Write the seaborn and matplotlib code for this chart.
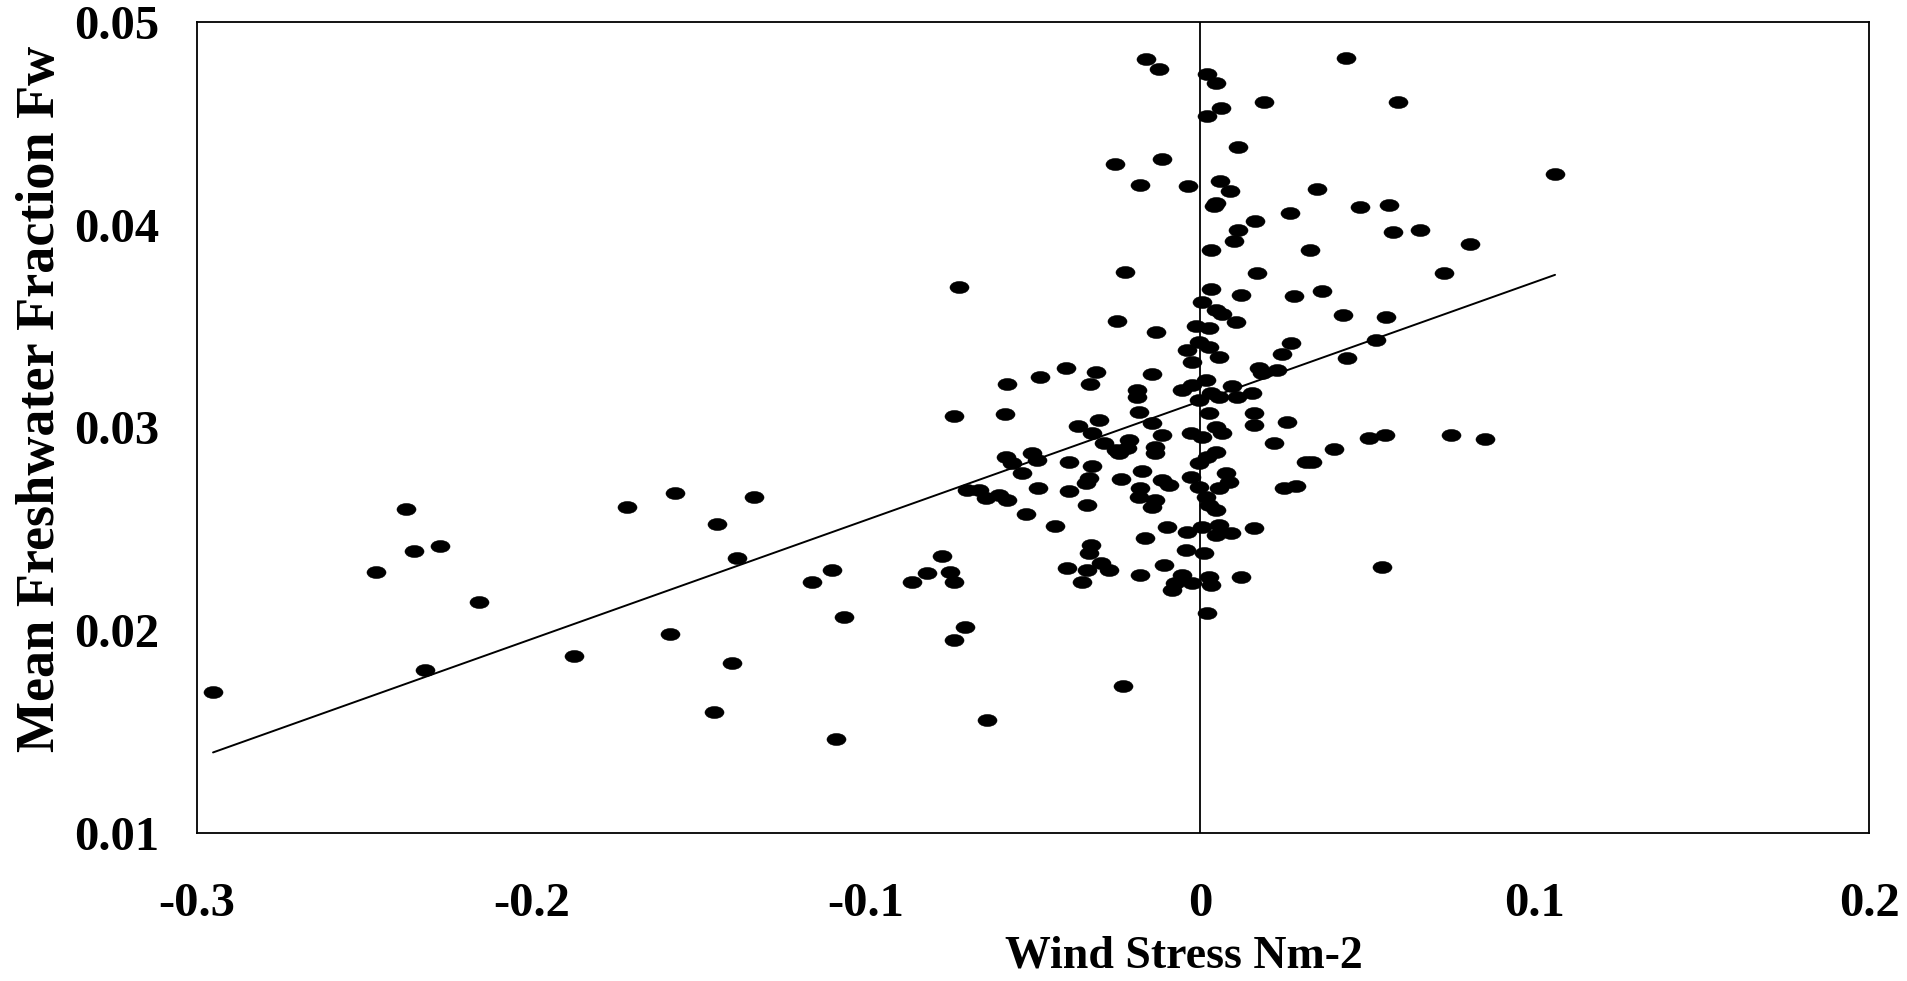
import numpy as np
import pandas as pd
import matplotlib
matplotlib.use("Agg")
import matplotlib.pyplot as plt
import seaborn as sns
from matplotlib.path import Path
from matplotlib.transforms import Affine2D

# ---- data ----
wind_stress = [
    -0.2952, -0.2464, -0.2374, -0.2350, -0.2318, -0.2273, -0.2156, -0.1872, -0.1714, -0.1585,
    -0.1570, -0.1453, -0.1444, -0.1400, -0.1385, -0.1335, -0.1160, -0.1100, -0.1089, -0.1064,
    -0.0863, -0.0816, -0.0772, -0.0747, -0.0737, -0.0737, -0.0702, -0.0637, -0.0722, -0.0737,
    -0.0697, -0.0662, -0.0642, -0.0602, -0.0577, -0.0584, -0.0577, -0.0582, -0.0562, -0.0532,
    -0.0522, -0.0502, -0.0487, -0.0484, -0.0478, -0.0433, -0.0400, -0.0398, -0.0393, -0.0393,
    -0.0365, -0.0353, -0.0343, -0.0338, -0.0338, -0.0333, -0.0333, -0.0330, -0.0328, -0.0323,
    -0.0323, -0.0313, -0.0303, -0.0298, -0.0288, -0.0273, -0.0256, -0.0253, -0.0250, -0.0238,
    -0.0230, -0.0225, -0.0218, -0.0213, -0.0188, -0.0188, -0.0183, -0.0183, -0.0179, -0.0179,
    -0.0179, -0.0173, -0.0164, -0.0161, -0.0144, -0.0144, -0.0144, -0.0134, -0.0134, -0.0131,
    -0.0122, -0.0114, -0.0114, -0.0114, -0.0109, -0.0099, -0.0094, -0.0084, -0.0074, -0.0054, -0.0044, -0.0037,
    0.0006, 0.0046, 0.0066, 0.0106, -0.0014, 0.0026, -0.0004, 0.0026, -0.0039, 0.0056,
    -0.0024, 0.0270, 0.0245, 0.0176, 0.0185, 0.0230, -0.0054, -0.0024, 0.0016, 0.0031,
    -0.0004, 0.0056, 0.0096, 0.0111, 0.0156, 0.0161, 0.0161, 0.0260, 0.0026, -0.0029,
    0.0006, 0.0046, 0.0066, -0.0243, 0.0021, 0.0046, -0.0004, 0.0220, 0.0315, -0.0134,
    -0.0029, -0.0004, 0.0076, 0.0086, 0.0056, 0.0016, 0.0026, 0.0046, 0.0250, 0.0285,
    -0.0039, 0.0006, 0.0056, 0.0046, 0.0091, 0.0161, 0.0011, -0.0024, 0.0026, 0.0031, 0.0121, 0.0021,
    0.0021, 0.0046, 0.0437, 0.0190, 0.0061, 0.0021, 0.0114, 0.0058, 0.0089, 0.0046, 0.0041, 0.0348,
    0.0268, 0.0477, 0.0164, 0.0113, 0.0101, 0.0033, 0.0327, 0.0170, 0.0031, 0.0121, 0.0280, 0.0365,
    0.0591, 0.1061, 0.0565, 0.0575, 0.0658, 0.0807, 0.0728, 0.0428, 0.0556, 0.0527,
    0.0438, 0.0504, 0.0554, 0.0401, 0.0751, 0.0851, 0.0335, 0.0543,
]
freshwater_fraction = [
    0.01695, 0.02287, 0.02598, 0.02391, 0.01804, 0.02416, 0.02139, 0.01873, 0.02608, 0.01981,
    0.02677, 0.01597, 0.02524, 0.01837, 0.02355, 0.02659, 0.02237, 0.02297, 0.01464, 0.02067,
    0.02240, 0.02284, 0.02368, 0.02289, 0.02237, 0.01952, 0.02018, 0.01556, 0.03694, 0.03057,
    0.02692, 0.02692, 0.02651, 0.02667, 0.02642, 0.03065, 0.03213, 0.02856, 0.02823, 0.02774,
    0.02572, 0.02873, 0.02840, 0.02700, 0.03248, 0.02516, 0.03292, 0.02306, 0.02831, 0.02688,
    0.03009, 0.02239, 0.02725, 0.02616, 0.02297, 0.02749, 0.02380, 0.03215, 0.02420, 0.02971,
    0.02810, 0.03272, 0.03037, 0.02330, 0.02922, 0.02297, 0.04298, 0.02889, 0.03525, 0.02744,
    0.01725, 0.03767, 0.02897, 0.02938, 0.03185, 0.03152, 0.03078, 0.02659, 0.02700, 0.02273,
    0.04196, 0.02785, 0.02453, 0.04816, 0.03262, 0.03021, 0.02609, 0.02905, 0.02873, 0.03471,
    0.04767, 0.04324, 0.02963, 0.02741, 0.02322, 0.02508, 0.02716, 0.02199, 0.02232, 0.02273, 0.02396, 0.04191,
    0.03620, 0.03580, 0.03560, 0.03520, 0.03500, 0.03490, 0.03423, 0.03399, 0.03382, 0.03349,
    0.03325, 0.03415, 0.03363, 0.03292, 0.03267, 0.03284, 0.03185, 0.03210, 0.03234, 0.03169,
    0.03136, 0.03152, 0.03205, 0.03152, 0.03169, 0.03070, 0.03012, 0.03029, 0.03070, 0.02974,
    0.02955, 0.03004, 0.02971, 0.02873, 0.02856, 0.02881, 0.02823, 0.02925, 0.02828, 0.02642,
    0.02757, 0.02708, 0.02774, 0.02733, 0.02700, 0.02659, 0.02618, 0.02593, 0.02700, 0.02711,
    0.02486, 0.02511, 0.02519, 0.02470, 0.02478, 0.02503, 0.02380, 0.02232, 0.02264, 0.02223, 0.02261, 0.02087,
    0.04742, 0.04698, 0.04821, 0.04607, 0.04574, 0.04536, 0.04385, 0.04216, 0.04168, 0.04109, 0.04092, 0.04178,
    0.04060, 0.04089, 0.04019, 0.03974, 0.03921, 0.03875, 0.03875, 0.03760, 0.03682, 0.03654, 0.03649, 0.03675,
    0.04605, 0.04249, 0.04097, 0.03962, 0.03974, 0.03904, 0.03763, 0.03553, 0.03544, 0.03430,
    0.03345, 0.02949, 0.02961, 0.02896, 0.02961, 0.02945, 0.02830, 0.02311,
]
assert len(wind_stress) == len(freshwater_fraction)

# linear trend line (as printed in the reference)
fit_slope = 0.0587
fit_intercept = 0.0313

x_ticks = [-0.3, -0.2, -0.1, 0.0, 0.1, 0.2]
x_tick_labels = ["-0.3", "-0.2", "-0.1", "0", "0.1", "0.2"]
y_ticks = [0.01, 0.02, 0.03, 0.04, 0.05]
y_tick_labels = ["0.01", "0.02", "0.03", "0.04", "0.05"]
x_label = "Wind Stress Nm-2"
y_label = "Mean Freshwater Fraction Fw"

# ---- style ----
sns.set_theme(style="white")
plt.rcParams["font.family"] = ["Liberation Serif", "DejaVu Serif"]
plt.rcParams["font.weight"] = "bold"

fig = plt.figure(figsize=(19.07, 9.81), dpi=100)
fig.patch.set_facecolor("white")
ax = fig.add_axes([0.1033, 0.1509, 0.8768, 0.8267])
ax.set_facecolor("white")

df = pd.DataFrame({"wind": wind_stress, "fw": freshwater_fraction})

# trend line over the data range
trend_x = np.array([df["wind"].min(), df["wind"].max()])
trend_df = pd.DataFrame({"wind": trend_x, "fw": fit_intercept + fit_slope * trend_x})
sns.lineplot(data=trend_df, x="wind", y="fw", color="black", linewidth=1.4,
             estimator=None, ax=ax, zorder=2)

ellipse = Path.unit_circle().transformed(Affine2D().scale(1.0, 0.64))
sns.scatterplot(data=df, x="wind", y="fw", marker=ellipse, s=190,
                color="black", edgecolor="black", linewidth=0.3,
                legend=False, ax=ax, zorder=3)

ax.axvline(0, color="black", linewidth=1.3, zorder=4)

ax.set_xlim(-0.3, 0.2)
ax.set_ylim(0.01, 0.05)
ax.set_xticks(x_ticks)
ax.set_xticklabels(x_tick_labels)
ax.set_yticks(y_ticks)
ax.set_yticklabels(y_tick_labels)
ax.tick_params(axis="both", length=0, labelsize=35, colors="black")
ax.tick_params(axis="x", pad=35)
ax.tick_params(axis="y", pad=27)
for lab in ax.get_xticklabels() + ax.get_yticklabels():
    lab.set_fontweight("bold")

for sp in ax.spines.values():
    sp.set_visible(True)
    sp.set_color("black")
    sp.set_linewidth(1.3)

ax.set_xlabel(x_label, fontsize=33, fontweight="bold", color="black")
ax.set_ylabel(y_label, fontsize=39, fontweight="bold", color="black")
ax.xaxis.set_label_coords(0.59, -0.127)
ax.yaxis.set_label_coords(-0.0785, 0.535)

fig.savefig("out.png", dpi=100, facecolor="white")
